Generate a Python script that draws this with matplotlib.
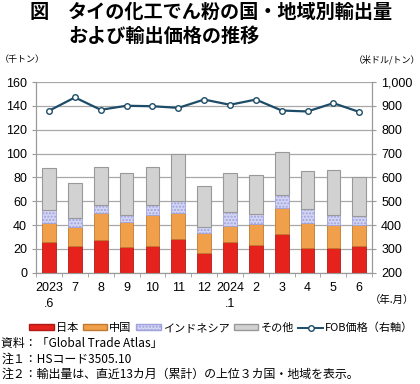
import matplotlib.pyplot as plt
from matplotlib.patches import Patch
from matplotlib.lines import Line2D
import numpy as np

plt.rcParams['font.family'] = ['Noto Sans CJK JP', 'DejaVu Sans']
num_font = ['Liberation Sans', 'Noto Sans CJK JP']

# Data
months = ['2023\n.6', '7', '8', '9', '10', '11', '12', '2024\n.1', '2', '3', '4', '5', '6']
japan = [26, 22.6, 27, 21.3, 22.7, 28.5, 16.5, 25.7, 23, 32.4, 20.4, 20.4, 22]
china = [16, 16, 23.3, 20.9, 26, 21.3, 16.5, 13.5, 17.6, 21.9, 21, 19.9, 17.7]
indonesia = [10.5, 7.4, 6.2, 6.2, 7.8, 10.2, 5.6, 12, 8.4, 10.7, 12, 8.1, 7.6]
others = [35.5, 29.5, 32.5, 35.6, 32.5, 39.6, 34.4, 32.2, 32.7, 36.5, 31.6, 37.6, 32.7]
fob = [880, 936, 884, 901, 899, 892, 927, 905, 927, 881, 877, 912, 875]

c_jp = '#e5221c'
c_cn = '#f0a04a'
c_id = '#d3d5f3'
c_ot = '#d2d2d2'
c_line = '#1d4c68'

fig = plt.figure(figsize=(4.2, 3.84), dpi=100)
ax = fig.add_axes([0.086, 0.29, 0.80, 0.496])

x = np.arange(len(months))
w = 0.53
b1 = np.array(japan)
b2 = b1 + np.array(china)
b3 = b2 + np.array(indonesia)
ax.bar(x, japan, w, color=c_jp, edgecolor='#b01a15', linewidth=0.6, zorder=3)
ax.bar(x, china, w, bottom=b1, color=c_cn, edgecolor='#c07a30', linewidth=0.6, zorder=3)
ax.bar(x, indonesia, w, bottom=b2, color=c_id, edgecolor='#9fa2dc', hatch='.....',
       linewidth=0.6, zorder=3)
ax.bar(x, others, w, bottom=b3, color=c_ot, edgecolor='#999999', linewidth=0.8, zorder=3)

ax.set_ylim(0, 160)
ax.set_xlim(-0.5, len(months) - 0.5)
ax.set_yticks(range(0, 161, 20))
ax.set_yticklabels([str(v) for v in range(0, 161, 20)], family=num_font, fontsize=9)
ax.yaxis.grid(True, color='#a8a8a8', linewidth=0.9, zorder=0)
ax.set_xticks(x)
ax.set_xticklabels(months, family=num_font, fontsize=9, linespacing=1.35, va='top')
ax.set_xticks(np.arange(-0.5, len(months), 1), minor=True)
ax.tick_params(axis='x', which='major', length=0, pad=7)
ax.tick_params(axis='x', which='minor', length=3, direction='out', color='#999999')
ax.tick_params(axis='y', length=3, color='#999999')
ax.spines['top'].set_visible(False)
for s in ['left', 'right', 'bottom']:
    ax.spines[s].set_color('#999999')

ax2 = ax.twinx()
ax2.plot(x, fob, color=c_line, linewidth=1.6, marker='o', markersize=4,
         markerfacecolor='white', markeredgecolor=c_line, markeredgewidth=1, zorder=5)
ax2.set_ylim(200, 1000)
ax2.set_yticks(range(200, 1001, 100))
ax2.set_yticklabels([f'{v:,}' for v in range(200, 1001, 100)], family=num_font, fontsize=9)
ax2.tick_params(axis='y', length=3, color='#999999')
ax2.spines['top'].set_visible(False)
for s in ['left', 'right', 'bottom']:
    ax2.spines[s].set_color('#999999')

fig.text(30 / 420, 0.967, '図', fontsize=13.8, fontweight='bold', ha='left', va='center')
fig.text(68 / 420, 0.967, 'タイの化工でん粉の国・地域別輸出量', fontsize=13.8,
         fontweight='bold', ha='left', va='center')
fig.text(68 / 420, 0.904, 'および輸出価格の推移', fontsize=13.8,
         fontweight='bold', ha='left', va='center')
fig.text(0.0, 0.845, '（千トン）', fontsize=6.5, ha='left', va='center')
fig.text(1.0, 0.845, '（米ドル/トン）', fontsize=6.5, ha='right', va='center')
fig.text(0.985, 0.219, '（年.月）', fontsize=7.5, ha='right', va='center')

handles = [Patch(facecolor=c_jp, edgecolor='#b01a15'),
           Patch(facecolor=c_cn, edgecolor='#c07a30'),
           Patch(facecolor=c_id, edgecolor='#9fa2dc', hatch='.....'),
           Patch(facecolor=c_ot, edgecolor='#999999'),
           Line2D([0], [0], color=c_line, marker='o', markersize=4,
                  markerfacecolor='white', linewidth=1.4)]
labels = ['日本', '中国', 'インドネシア', 'その他', 'FOB価格（右軸）']
fig.legend(handles, labels, loc='center', bbox_to_anchor=(0.527, 0.146), ncol=5,
           frameon=False, fontsize=8, handlelength=2.2, handleheight=0.45,
           handletextpad=0.2, columnspacing=0.4)

notes = ['資料：「Global Trade Atlas」',
         '注１：HSコード3505.10',
         '注２：輸出量は、直近13カ月（累計）の上位３カ国・地域を表示。']
for i, t in enumerate(notes):
    fig.text(0.003, 1 - (344 + i * 15) / 384, t, fontsize=8.6, ha='left', va='center')

fig.savefig('out.png', dpi=100)
